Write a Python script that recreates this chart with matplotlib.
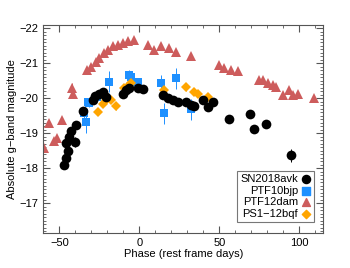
import numpy as np
import matplotlib
matplotlib.use('Agg')
import matplotlib.pyplot as plt
from matplotlib.ticker import MultipleLocator

plt.rcParams['font.family'] = ['Liberation Sans', 'DejaVu Sans']

# SN2018avk (black circles)
avk_phase = [-46.9, -45.8, -44.8, -45.6, -43.8, -42.5, -40.0, -39.6, -35.0, -29.2, -27.5,
             -25.0, -22.9, -20.8, -10.4, -8.3, -6.2, -1.1, 2.1, 14.6, 17.7, 20.8,
             23.9, 29.2, 32.3, 34.4, 39.6, 42.7, 45.8, 56.2, 69.4, 71.9, 79.2, 94.8]
avk_mag = [-18.11, -18.31, -18.49, -18.74, -18.91, -19.06, -18.76, -19.23, -19.65, -19.95, -20.08,
           -20.14, -20.19, -20.05, -20.14, -20.24, -20.29, -20.29, -20.26, -20.10, -20.00, -19.95,
           -19.90, -19.90, -19.81, -19.78, -19.95, -19.76, -19.90, -19.42, -19.56, -19.14, -19.26, -18.37]
avk_err = [0.05, 0.05, 0.05, 0.05, 0.05, 0.05, 0.15, 0.05, 0.05, 0.05, 0.05,
           0.05, 0.05, 0.05, 0.05, 0.05, 0.05, 0.05, 0.05, 0.05, 0.05, 0.05,
           0.05, 0.05, 0.05, 0.05, 0.05, 0.05, 0.05, 0.05, 0.05, 0.05, 0.05, 0.18]

# PTF10bjp (blue squares)
bjp_phase = [-34.4, -33.3, -32.3, -31.3, -26.3, -18.8, -6.2, -5.2, -3.1, -1.1, 13.6, 15.6, 22.9, 32.3]
bjp_mag = [-19.57, -19.32, -19.90, -19.86, -20.04, -20.48, -20.67, -20.61, -20.48, -20.48,
           -20.43, -19.57, -20.58, -19.69]
bjp_err = [0.15, 0.3, 0.1, 0.1, 0.1, 0.3, 0.15, 0.1, 0.1, 0.1, 0.25, 0.3, 0.3, 0.3]

# PTF12dam (red triangles)
dam_phase = [-59.4, -56.3, -53.1, -51.3, -48.1, -41.9, -41.3, -32.5, -30.2, -27.1, -25.0,
             -21.9, -19.8, -16.7, -13.6, -10.4, -7.3, -3.1, 5.2, 9.4, 13.6, 18.8, 22.9,
             32.3, 50.0, 53.1, 57.3, 61.4, 75.0, 77.1, 80.2, 83.3, 85.4, 89.6, 93.8, 95.8, 98.9, 109.4]
dam_mag = [-18.57, -19.29, -18.77, -18.88, -19.37, -20.30, -20.12, -20.82, -20.91, -21.05, -21.15,
           -21.30, -21.39, -21.49, -21.54, -21.58, -21.63, -21.68, -21.54, -21.39, -21.49, -21.44, -21.34,
           -21.20, -20.96, -20.86, -20.82, -20.77, -20.53, -20.53, -20.43, -20.38, -20.33, -20.10, -20.24,
           -20.10, -20.14, -20.00]
dam_err = [0.1, 0.05, 0.05, 0.05, 0.05, 0.15, 0.05] + [0.03] * 31

# PS1-12bqf (orange diamonds)
bqf_phase = [-26.1, -22.9, -20.6, -17.7, -14.8, -9.4, -7.3, -5.2, 15.6, 29.2, 34.4, 36.4, 43.1]
bqf_mag = [-19.61, -19.84, -19.95, -19.95, -19.78, -20.29, -20.35, -20.43, -20.24, -20.33,
           -20.17, -20.14, -20.05]
bqf_err = [0.05, 0.05, 0.05, 0.05, 0.1, 0.05, 0.05, 0.05, 0.05, 0.12, 0.05, 0.05, 0.08]

fig = plt.figure(figsize=(3.5, 2.68), dpi=100)
ax = fig.add_axes([0.124, 0.13, 0.8, 0.777])

red = '#CD5C5C'
blue = '#1E90FF'
orange = '#FFA500'

ax.errorbar(dam_phase, dam_mag, yerr=dam_err, fmt='^', color=red, ms=7, mew=0,
            elinewidth=0.7, capsize=1.2, zorder=2)
ax.errorbar(bjp_phase, bjp_mag, yerr=bjp_err, fmt='s', color=blue, ms=6, mew=0,
            elinewidth=0.7, capsize=1.2, zorder=3)
ax.errorbar(bqf_phase, bqf_mag, yerr=bqf_err, fmt='D', color=orange, ms=5, mew=0,
            elinewidth=0.7, capsize=1.2, zorder=4)
ax.errorbar(avk_phase, avk_mag, yerr=avk_err, fmt='o', color='black', ms=7, mew=0,
            elinewidth=0.7, capsize=1.2, zorder=5)

h1 = ax.scatter([], [], marker='o', color='black', s=34)
h2 = ax.scatter([], [], marker='s', color=blue, s=26)
h3 = ax.scatter([], [], marker='^', color=red, s=32)
h4 = ax.scatter([], [], marker='D', color=orange, s=18)
leg = ax.legend([h1, h2, h3, h4], ['SN2018avk', 'PTF10bjp', 'PTF12dam', 'PS1\u221212bqf'],
                loc='lower right', markerfirst=False, fontsize=8, frameon=True, fancybox=False,
                handlelength=0.8, handletextpad=0.3, borderpad=0.3, labelspacing=0.15,
                borderaxespad=0, bbox_to_anchor=(0.965, 0.052))
leg.get_frame().set_edgecolor('#555555')
leg.get_frame().set_linewidth(0.8)
for t in leg.get_texts():
    t.set_ha('right')

ax.set_xlim(-60, 115)
ax.set_ylim(-16.15, -22.1)
ax.xaxis.set_major_locator(MultipleLocator(50))
ax.xaxis.set_minor_locator(MultipleLocator(10))
ax.yaxis.set_major_locator(MultipleLocator(1))
ax.yaxis.set_minor_locator(MultipleLocator(0.1))
ax.tick_params(which='both', direction='in', top=True, right=True, labelsize=8, color='#555555')
ax.tick_params(which='major', length=5, width=0.8)
ax.tick_params(which='minor', length=2.5, width=0.6)
for s in ax.spines.values():
    s.set_color('#555555')
    s.set_linewidth(0.8)

ax.set_xlabel('Phase (rest frame days)', fontsize=8, labelpad=1)
ax.set_ylabel('Absolute g\u2212band magnitude', fontsize=8, labelpad=2)

fig.savefig('out.png', dpi=100)
